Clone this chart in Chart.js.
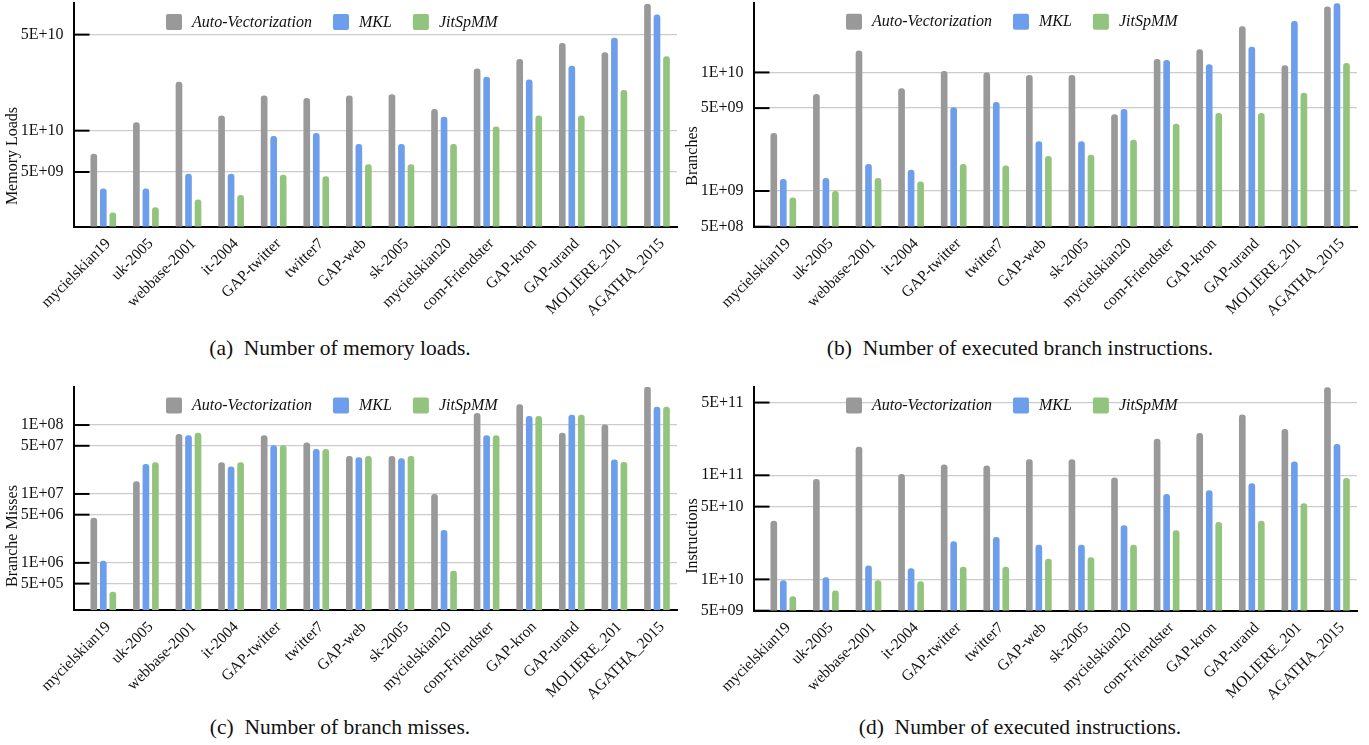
<!DOCTYPE html>
<html><head><meta charset="utf-8">
<script src="https://cdn.jsdelivr.net/npm/chart.js@4.4.1/dist/chart.umd.min.js"></script>
<style>
html,body{margin:0;padding:0;background:#fff;width:1369px;height:745px;overflow:hidden;}
canvas{position:absolute;}
.cap{position:absolute;width:680px;text-align:center;font-family:"Liberation Serif","Times New Roman",serif;font-size:21.5px;color:#111;line-height:24px;}
</style></head><body>
<canvas id="ca" width="680" height="335" style="left:0;top:0"></canvas>
<canvas id="cb" width="680" height="335" style="left:680px;top:0"></canvas>
<canvas id="cc" width="680" height="335" style="left:0;top:380px"></canvas>
<canvas id="cd" width="680" height="335" style="left:680px;top:380px"></canvas>
<div class="cap" style="left:0;top:336px">(a)&nbsp; Number of memory loads.</div>
<div class="cap" style="left:680px;top:336px">(b)&nbsp; Number of executed branch instructions.</div>
<div class="cap" style="left:0;top:715px">(c)&nbsp; Number of branch misses.</div>
<div class="cap" style="left:680px;top:715px">(d)&nbsp; Number of executed instructions.</div>
<script>
const categories = ['mycielskian19','uk-2005','webbase-2001','it-2004','GAP-twitter','twitter7','GAP-web','sk-2005','mycielskian20','com-Friendster','GAP-kron','GAP-urand','MOLIERE_201','AGATHA_2015'];
const seriesNames = ['Auto-Vectorization','MKL','JitSpMM'];
const seriesColors = ['#999999','#6d9eeb','#93c47d'];

const memAuto = [6.8e9, 1.15e10, 2.27e10, 1.29e10, 1.8e10, 1.73e10, 1.8e10, 1.84e10, 1.44e10, 2.83e10, 3.32e10, 4.35e10, 3.72e10, 8.4e10];
const memMKL  = [3.8e9, 3.8e9, 4.86e9, 4.86e9, 9.15e9, 9.6e9, 8.0e9, 8.0e9, 1.26e10, 2.47e10, 2.36e10, 2.97e10, 4.75e10, 7.0e10];
const memJit  = [2.54e9, 2.77e9, 3.16e9, 3.4e9, 4.78e9, 4.65e9, 5.7e9, 5.7e9, 8.0e9, 1.07e10, 1.29e10, 1.29e10, 1.98e10, 3.48e10];

const brAuto = [3.09e9, 6.57e9, 1.53e10, 7.34e9, 1.03e10, 1.0e10, 9.5e9, 9.5e9, 4.44e9, 1.3e10, 1.57e10, 2.45e10, 1.15e10, 3.6e10];
const brMKL  = [1.26e9, 1.29e9, 1.69e9, 1.51e9, 5.08e9, 5.63e9, 2.63e9, 2.63e9, 4.92e9, 1.27e10, 1.17e10, 1.65e10, 2.72e10, 3.83e10];
const brJit  = [8.8e8, 1.0e9, 1.29e9, 1.2e9, 1.69e9, 1.64e9, 1.97e9, 2.02e9, 2.7e9, 3.7e9, 4.55e9, 4.55e9, 6.75e9, 1.2e10];

const missAuto = [4.5e6, 1.53e7, 7.4e7, 2.89e7, 7.1e7, 5.6e7, 3.56e7, 3.56e7, 1.0e7, 1.49e8, 2.0e8, 7.7e7, 1.02e8, 3.58e8];
const missMKL  = [1.07e6, 2.73e7, 7.1e7, 2.5e7, 5.1e7, 4.5e7, 3.4e7, 3.3e7, 3.0e6, 7.1e7, 1.35e8, 1.41e8, 3.15e7, 1.84e8];
const missJit  = [3.8e5, 2.89e7, 7.7e7, 2.89e7, 5.1e7, 4.5e7, 3.56e7, 3.56e7, 7.7e5, 7.1e7, 1.35e8, 1.41e8, 2.9e7, 1.84e8];

const insAuto = [3.65e10, 9.2e10, 1.88e11, 1.03e11, 1.27e11, 1.24e11, 1.43e11, 1.43e11, 9.5e10, 2.25e11, 2.55e11, 3.84e11, 2.78e11, 7.0e11];
const insMKL  = [9.8e9, 1.05e10, 1.36e10, 1.28e10, 2.33e10, 2.56e10, 2.15e10, 2.15e10, 3.32e10, 6.6e10, 7.2e10, 8.4e10, 1.36e11, 2.0e11];
const insJit  = [6.9e9, 7.8e9, 9.8e9, 9.6e9, 1.32e10, 1.32e10, 1.58e10, 1.63e10, 2.15e10, 2.97e10, 3.55e10, 3.65e10, 5.4e10, 9.4e10];

const memTicks  = [5e9, 1e10, 5e10];
const brTicks   = [5e8, 1e9, 5e9, 1e10];
const missTicks = [5e5, 1e6, 5e6, 1e7, 5e7, 1e8];
const insTicks  = [5e9, 1e10, 5e10, 1e11, 5e11];

const SERIF = '"Liberation Serif", "Times New Roman", serif';

function fmt(v){
  const e = Math.floor(Math.log10(v) + 1e-9);
  const m = Math.round(v / Math.pow(10, e));
  return m + 'E+' + String(e).padStart(2, '0');
}

const deco = {
  id: 'deco',
  afterDraw(chart, args, opts){
    const ctx = chart.ctx, a = chart.chartArea, y = chart.scales.y;
    ctx.save();
    ctx.strokeStyle = '#000'; ctx.lineWidth = 2;
    opts.ticks.forEach(v => {
      const py = y.getPixelForValue(v);
      ctx.beginPath(); ctx.moveTo(a.left, py); ctx.lineTo(a.left + 16, py); ctx.stroke();
    });
    ctx.font = '16px ' + SERIF; ctx.fillStyle = '#111';
    ctx.textAlign = 'center'; ctx.textBaseline = 'middle';
    ctx.translate(13, opts.titleY); ctx.rotate(-Math.PI / 2);
    ctx.fillText(opts.title, 0, 0);
    ctx.restore();
    ctx.save();
    ctx.font = 'italic 16px ' + SERIF;
    ctx.textBaseline = 'middle'; ctx.textAlign = 'left';
    let x = 166; const top = a.top + 10.7;
    chart.data.datasets.forEach(ds => {
      ctx.fillStyle = ds.backgroundColor;
      ctx.beginPath(); ctx.roundRect(x, top, 16, 16, 2); ctx.fill();
      x += 26;
      ctx.fillStyle = '#111';
      ctx.fillText(ds.label, x, top + 8.5);
      x += ctx.measureText(ds.label).width + 21;
    });
    ctx.restore();
  }
};

function makeChart(id, series, tickVals, yMin, yMax, title, padTop, chartBottom){
  const H = 335;
  new Chart(document.getElementById(id), {
    type: 'bar',
    data: {
      datasets: series.map((vals, k) => ({
        label: seriesNames[k],
        data: vals.map((v, i) => ({x: i, y: v})),
        backgroundColor: seriesColors[k],
        borderRadius: 3,
        borderSkipped: 'start',
        categoryPercentage: 0.67,
        barPercentage: 0.7
      }))
    },
    options: {
      responsive: false,
      animation: false,
      layout: {padding: {top: padTop, left: 0, right: 3, bottom: 0}},
      plugins: {
        legend: {display: false},
        tooltip: {enabled: false},
        deco: {ticks: tickVals, title: title, titleY: 156}
      },
      scales: {
        x: {
          type: 'linear', min: -0.7, max: 13.47, offset: false,
          afterBuildTicks: s => { s.ticks = categories.map((_, i) => ({value: i})); },
          ticks: {autoSkip: false, maxRotation: 45, minRotation: 45, padding: 8, labelOffset: 5,
                  font: {family: SERIF, size: 15.5}, color: '#111',
                  callback: v => categories[v]},
          grid: {display: false, drawTicks: false},
          border: {display: true, color: '#000', width: 2},
          afterFit: s => { s.height = H - chartBottom; s.paddingLeft = 0; s.paddingRight = 0; }
        },
        y: {
          type: 'logarithmic', min: yMin, max: yMax,
          afterBuildTicks: s => { s.ticks = tickVals.map(v => ({value: v})); },
          ticks: {autoSkip: false, padding: 10, font: {family: SERIF, size: 16}, color: '#111',
                  callback: v => fmt(v)},
          grid: {color: '#cccccc', lineWidth: 1.3, drawTicks: false},
          border: {display: true, color: '#000', width: 2},
          afterFit: s => { s.width = 73.5; s.paddingTop = 0; s.paddingBottom = 0; }
        }
      }
    },
    plugins: [deco]
  });
}

makeChart('ca', [memAuto, memMKL, memJit], memTicks, 2e9, 8.45e10, 'Memory Loads', 3.3, 226.7);
makeChart('cb', [brAuto, brMKL, brJit], brTicks, 5e8, 3.85e10, 'Branches', 3, 226.7);
makeChart('cc', [missAuto, missMKL, missJit], missTicks, 2.07e5, 3.6e8, 'Branche Misses', 6.7, 230);
makeChart('cd', [insAuto, insMKL, insJit], insTicks, 5e9, 7.1e11, 'Instructions', 6.7, 230.7);
</script>
</body></html>
